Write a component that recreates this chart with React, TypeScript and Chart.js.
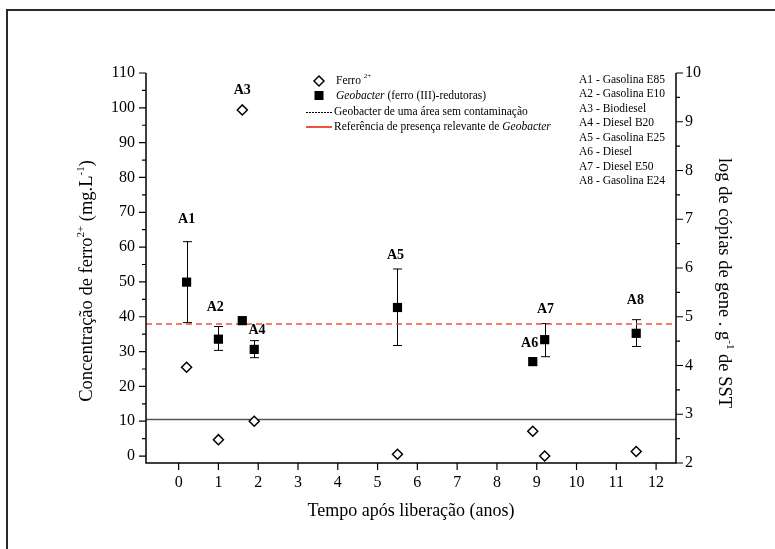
import React, { useEffect, useRef } from 'react';
import { Chart, registerables } from 'chart.js';

Chart.register(...registerables);

// ---------- data ----------
const SITES = ['A1', 'A2', 'A3', 'A4', 'A5', 'A6', 'A7', 'A8'];
const SITE_NAMES = ['Gasolina E85', 'Gasolina E10', 'Biodiesel', 'Diesel B20', 'Gasolina E25', 'Diesel', 'Diesel E50', 'Gasolina E24'];
const YEARS = [0.2, 1.0, 1.6, 1.9, 5.5, 8.9, 9.2, 11.5];
const FERRO = [25.5, 4.7, 99.4, 10.0, 0.5, 7.1, 0.0, 1.3];
const GEO_LOG = [5.71, 4.54, 4.92, 4.33, 5.19, 4.08, 4.53, 4.66];
const GEO_LOW: (number | null)[] = [4.88, 4.31, null, 4.16, 4.41, null, 4.18, 4.39];
const GEO_HIGH: (number | null)[] = [6.54, 4.8, null, 4.51, 5.98, null, 4.86, 4.94];
// annotation anchors for site labels (x in years, y in log-copies units)
const LABEL_X = [0.2, 0.92, 1.6, 1.97, 5.45, 8.82, 9.22, 11.48];
const LABEL_Y = [7.0, 5.2, 9.64, 4.73, 6.26, 4.46, 5.16, 5.33];
const GEO_BACKGROUND = 2.89;
const GEO_REFERENCE = 4.85;
const X_RANGE = [-0.82, 12.5];
const Y_RANGE = [-2, 110];
const Y1_RANGE = [2, 10];
const X_TICKS = [0, 1, 2, 3, 4, 5, 6, 7, 8, 9, 10, 11, 12];
const Y_TICKS = [0, 10, 20, 30, 40, 50, 60, 70, 80, 90, 100, 110];
const Y1_TICKS = [2, 3, 4, 5, 6, 7, 8, 9, 10];

const SERIF = "'Liberation Serif', 'Times New Roman', serif";
const RED = 'rgb(240,82,58)';

type Run = { t: string; size: number; italic?: boolean; bold?: boolean; dy?: number };

function font(r: Run) {
  return `${r.italic ? 'italic ' : ''}${r.bold ? 'bold ' : ''}${r.size}px ${SERIF}`;
}
function runsWidth(ctx: CanvasRenderingContext2D, runs: Run[]) {
  let w = 0;
  for (const r of runs) {
    ctx.font = font(r);
    w += ctx.measureText(r.t).width;
  }
  return w;
}
function drawRuns(ctx: CanvasRenderingContext2D, runs: Run[], x: number, y: number, align: 'left' | 'center') {
  let cx = align === 'center' ? x - runsWidth(ctx, runs) / 2 : x;
  ctx.textAlign = 'left';
  for (const r of runs) {
    ctx.font = font(r);
    ctx.fillText(r.t, cx, y + (r.dy || 0));
    cx += ctx.measureText(r.t).width;
  }
}

const decorPlugin = {
  id: 'decor',
  beforeDatasetsDraw(chart: any) {
    const { ctx, scales } = chart;
    const xs = scales.x;
    const y1 = scales.y1;
    ctx.save();
    ctx.strokeStyle = '#000';
    ctx.lineWidth = 1;
    for (let i = 0; i < YEARS.length; i++) {
      const lo = GEO_LOW[i];
      const hi = GEO_HIGH[i];
      if (lo == null || hi == null) continue;
      const px = Math.round(xs.getPixelForValue(YEARS[i])) + 0.5;
      const pl = y1.getPixelForValue(lo);
      const ph = y1.getPixelForValue(hi);
      ctx.beginPath();
      ctx.moveTo(px, pl);
      ctx.lineTo(px, ph);
      ctx.moveTo(px - 4.5, ph);
      ctx.lineTo(px + 4.5, ph);
      ctx.moveTo(px - 4.5, pl);
      ctx.lineTo(px + 4.5, pl);
      ctx.stroke();
    }
    ctx.restore();
  },
  afterDraw(chart: any) {
    const { ctx, chartArea: a, scales } = chart;
    const xs = scales.x;
    const ys = scales.y;
    const y1 = scales.y1;
    ctx.save();
    // outer frame
    ctx.strokeStyle = '#2a2a2a';
    ctx.lineWidth = 2;
    ctx.beginPath();
    ctx.moveTo(7, 549);
    ctx.lineTo(7, 10);
    ctx.lineTo(775, 10);
    ctx.stroke();

    // axis lines
    ctx.strokeStyle = '#000';
    ctx.lineWidth = 1.5;
    ctx.beginPath();
    ctx.moveTo(a.left, a.top);
    ctx.lineTo(a.left, a.bottom);
    ctx.lineTo(a.right, a.bottom);
    ctx.lineTo(a.right, a.top);
    ctx.stroke();

    // ticks
    ctx.lineWidth = 1.2;
    ctx.beginPath();
    for (let i = 0; i < Y_TICKS.length; i++) {
      const p = ys.getPixelForValue(Y_TICKS[i]);
      ctx.moveTo(a.left, p);
      ctx.lineTo(a.left - 7, p);
      if (i < Y_TICKS.length - 1) {
        const m = ys.getPixelForValue((Y_TICKS[i] + Y_TICKS[i + 1]) / 2);
        ctx.moveTo(a.left, m);
        ctx.lineTo(a.left - 4, m);
      }
    }
    for (let i = 0; i < Y1_TICKS.length; i++) {
      const p = y1.getPixelForValue(Y1_TICKS[i]);
      ctx.moveTo(a.right, p);
      ctx.lineTo(a.right + 7, p);
      if (i < Y1_TICKS.length - 1) {
        const m = y1.getPixelForValue((Y1_TICKS[i] + Y1_TICKS[i + 1]) / 2);
        ctx.moveTo(a.right, m);
        ctx.lineTo(a.right + 4, m);
      }
    }
    for (const t of X_TICKS) {
      const p = xs.getPixelForValue(t);
      ctx.moveTo(p, a.bottom);
      ctx.lineTo(p, a.bottom + 7);
    }
    ctx.stroke();

    ctx.fillStyle = '#000';
    ctx.textBaseline = 'alphabetic';

    // x title
    drawRuns(ctx, [{ t: 'Tempo após liberação (anos)', size: 18 }], (a.left + a.right) / 2, 516, 'center');

    // left title
    ctx.save();
    ctx.translate(92, 281);
    ctx.rotate(-Math.PI / 2);
    drawRuns(
      ctx,
      [
        { t: 'Concentração de ferro', size: 18.5 },
        { t: '2+', size: 11, dy: -8 },
        { t: ' (mg.L', size: 18.5 },
        { t: '-1', size: 11, dy: -8 },
        { t: ')', size: 18.5 },
      ],
      0,
      0,
      'center'
    );
    ctx.restore();

    // right title
    ctx.save();
    ctx.translate(719, 283);
    ctx.rotate(Math.PI / 2);
    drawRuns(
      ctx,
      [
        { t: 'log de cópias de gene . g', size: 18.5 },
        { t: '-1', size: 11, dy: -8 },
        { t: ' de SST', size: 18.5 },
      ],
      0,
      0,
      'center'
    );
    ctx.restore();

    // site labels
    ctx.textBaseline = 'middle';
    for (let i = 0; i < SITES.length; i++) {
      const px = xs.getPixelForValue(LABEL_X[i]);
      const py = y1.getPixelForValue(LABEL_Y[i]);
      drawRuns(ctx, [{ t: SITES[i], size: 14, bold: true }], px, py, 'center');
    }

    // site legend (right)
    for (let i = 0; i < SITES.length; i++) {
      drawRuns(ctx, [{ t: `${SITES[i]} - ${SITE_NAMES[i]}`, size: 11.5 }], 579, 79.5 + i * 14.5, 'left');
    }

    // series legend
    const mx = 319;
    ctx.strokeStyle = '#000';
    ctx.lineWidth = 1.5;
    ctx.fillStyle = '#fff';
    ctx.beginPath();
    ctx.moveTo(mx, 81 - 5);
    ctx.lineTo(mx + 5, 81);
    ctx.lineTo(mx, 81 + 5);
    ctx.lineTo(mx - 5, 81);
    ctx.closePath();
    ctx.fill();
    ctx.stroke();
    ctx.fillStyle = '#000';
    ctx.fillRect(mx - 4.5, 95.5 - 4.5, 9, 9);
    drawRuns(ctx, [{ t: 'Ferro ', size: 11.5 }, { t: '2+', size: 7, dy: -5 }], 336, 81, 'left');
    drawRuns(ctx, [{ t: 'Geobacter', size: 11.5, italic: true }, { t: ' (ferro (III)-redutoras)', size: 11.5 }], 336, 95.5, 'left');
    ctx.setLineDash([2, 1]);
    ctx.lineWidth = 1;
    ctx.strokeStyle = '#000';
    ctx.beginPath();
    ctx.moveTo(306, 112.5);
    ctx.lineTo(332, 112.5);
    ctx.stroke();
    ctx.setLineDash([]);
    ctx.strokeStyle = RED;
    ctx.lineWidth = 2;
    ctx.beginPath();
    ctx.moveTo(306, 127);
    ctx.lineTo(332, 127);
    ctx.stroke();
    drawRuns(ctx, [{ t: 'Geobacter de uma área sem contaminação', size: 11.5 }], 334, 112, 'left');
    drawRuns(
      ctx,
      [
        { t: 'Referência de presença relevante de ', size: 11.5 },
        { t: 'Geobacter', size: 11.5, italic: true },
      ],
      334,
      127,
      'left'
    );
    ctx.restore();
  },
};

export default function App() {
  const ref = useRef<HTMLCanvasElement | null>(null);
  useEffect(() => {
    if (!ref.current) return;
    const ferroPts = YEARS.map((x, i) => ({ x, y: FERRO[i] }));
    const geoPts = YEARS.map((x, i) => ({ x, y: GEO_LOG[i] }));
    const tickFont = { family: SERIF, size: 16 };
    const chart = new Chart(ref.current, {
      type: 'scatter',
      data: {
        datasets: [
          {
            label: 'Geobacter (ferro (III)-redutoras)',
            data: geoPts,
            yAxisID: 'y1',
            pointStyle: 'rect',
            pointRadius: 6.5,
            backgroundColor: '#000',
            borderColor: '#000',
            borderWidth: 0,
          },
          {
            label: 'Ferro 2+',
            data: ferroPts,
            yAxisID: 'y',
            pointStyle: 'rectRot',
            pointRadius: 5,
            backgroundColor: '#fff',
            borderColor: '#000',
            borderWidth: 1.5,
          },
          {
            type: 'line',
            label: 'Referência de presença relevante de Geobacter',
            data: [
              { x: X_RANGE[0], y: GEO_REFERENCE },
              { x: X_RANGE[1], y: GEO_REFERENCE },
            ],
            yAxisID: 'y1',
            showLine: true,
            pointRadius: 0,
            borderColor: RED,
            borderWidth: 1.5,
            borderDash: [6, 4],
          },
          {
            type: 'line',
            label: 'Geobacter de uma área sem contaminação',
            data: [
              { x: X_RANGE[0], y: GEO_BACKGROUND },
              { x: X_RANGE[1], y: GEO_BACKGROUND },
            ],
            yAxisID: 'y1',
            showLine: true,
            pointRadius: 0,
            borderColor: '#555',
            borderWidth: 1.5,
          },
        ],
      } as any,
      options: {
        responsive: false,
        animation: false,
        devicePixelRatio: 1,
        layout: { padding: { left: 0, right: 0, top: 73, bottom: 0 } },
        plugins: { legend: { display: false }, tooltip: { enabled: false } },
        scales: {
          x: {
            type: 'linear',
            min: X_RANGE[0],
            max: X_RANGE[1],
            grid: { display: false, drawTicks: false },
            border: { display: false },
            afterBuildTicks: (s: any) => {
              s.ticks = X_TICKS.map((v) => ({ value: v }));
            },
            afterFit: (s: any) => {
              s.height = 86;
            },
            ticks: { font: tickFont, color: '#000', padding: 10, autoSkip: false, maxRotation: 0, callback: (v: any) => String(v) },
          },
          y: {
            type: 'linear',
            position: 'left',
            min: Y_RANGE[0],
            max: Y_RANGE[1],
            grid: { display: false, drawTicks: false },
            border: { display: false },
            afterBuildTicks: (s: any) => {
              s.ticks = Y_TICKS.map((v) => ({ value: v }));
            },
            afterFit: (s: any) => {
              s.width = 146;
            },
            ticks: { font: tickFont, color: '#000', padding: 11, callback: (v: any) => String(v) },
          },
          y1: {
            type: 'linear',
            position: 'right',
            min: Y1_RANGE[0],
            max: Y1_RANGE[1],
            grid: { display: false, drawTicks: false },
            border: { display: false },
            afterBuildTicks: (s: any) => {
              s.ticks = Y1_TICKS.map((v) => ({ value: v }));
            },
            afterFit: (s: any) => {
              s.width = 99;
            },
            ticks: { font: tickFont, color: '#000', padding: 9, callback: (v: any) => String(v) },
          },
        },
      } as any,
      plugins: [decorPlugin],
    });
    return () => chart.destroy();
  }, []);
  return (
    <div style={{ position: 'absolute', left: 0, top: 0, width: 775, height: 549, background: '#fff' }}>
      <canvas ref={ref} width={775} height={549} />
    </div>
  );
}
